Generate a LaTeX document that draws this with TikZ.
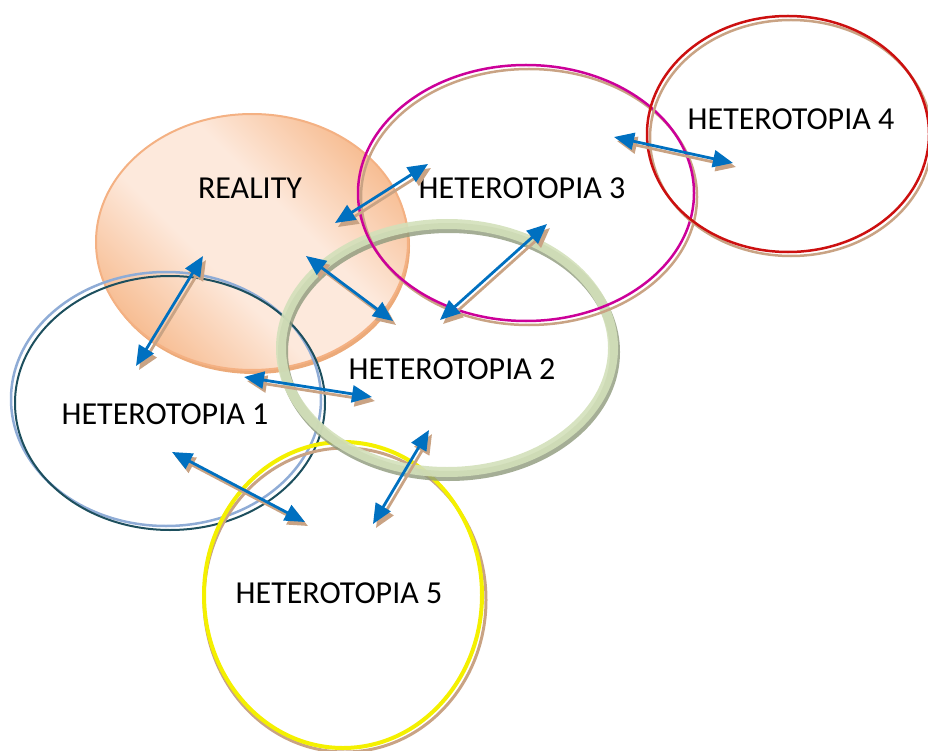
\documentclass[tikz,border=0pt]{standalone}
\usepackage{fontspec}
\setmainfont{Carlito}
\usetikzlibrary{arrows.meta,calc,positioning}
\definecolor{linkblue}{HTML}{0070C0}
\definecolor{tanshade}{HTML}{C9A384}
\definecolor{realdark}{HTML}{F7BE94}
\definecolor{reallight}{HTML}{FDE9DC}
\definecolor{realedge}{HTML}{F4B183}
\definecolor{tealline}{HTML}{1D4F5E}
\definecolor{paleblue}{HTML}{8FACD6}
\definecolor{ringgreen}{HTML}{D3E0BA}
\definecolor{ringshade}{HTML}{8E9A7C}
\definecolor{hetmagenta}{HTML}{CC0099}
\definecolor{hetred}{HTML}{CC1010}
\definecolor{hetyellow}{HTML}{F4F000}
\pgfdeclareverticalshading{realityshade}{100bp}{color(0bp)=(realdark);
  color(25bp)=(realdark); color(42bp)=(reallight); color(58bp)=(reallight);
  color(75bp)=(realdark); color(100bp)=(realdark)}
\tikzset{
  placename/.style={font=\fontsize{32}{38}\selectfont, inner sep=0pt},
  arrowshadow/.style={tanshade, line width=2.8pt,
    {Triangle[length=20pt,width=17pt]}-{Triangle[length=20pt,width=17pt]}},
  linkline/.style={linkblue, line width=2.8pt,
    {Triangle[length=20pt,width=17pt]}-{Triangle[length=20pt,width=17pt]}}
}
\newcommand{\linkarrow}[2]{%
  \draw[arrowshadow] ([shift={(3,4)}]#1) -- ([shift={(3,4)}]#2);
  \draw[linkline] (#1) -- (#2);}

\begin{document}
\begin{tikzpicture}[x=1pt,y=-1pt]
\useasboundingbox (0,0) rectangle (928,751);

% Reality (shaded disc)
\fill[realedge!85!brown] (254,246) ellipse (156 and 128);
\shade[shading=realityshade, shading angle=-45, draw=realedge,
  line width=2pt] (252,242) ellipse (156 and 128);

% Heterotopia 1
\draw[paleblue, line width=2.5pt] (166,399) ellipse (155 and 127);
\draw[tealline, line width=2pt] (170,403) ellipse (155 and 127);

% Heterotopia 5
\draw[tanshade, line width=3pt] (345,600) ellipse (141 and 152);
\draw[hetyellow, line width=4pt] (343,595) ellipse (139 and 153);

% Heterotopia 2 (thick ring)
\draw[ringshade, line width=10pt, opacity=0.8] (449,352) ellipse (166 and 124);
\draw[ringgreen, line width=10pt, opacity=0.9] (447,348) ellipse (166 and 124);

% Heterotopia 3
\draw[tanshade, line width=2.5pt] (529,197) ellipse (168 and 128);
\draw[hetmagenta, line width=2.5pt] (526,193) ellipse (168 and 128);

% Heterotopia 4
\draw[tanshade, line width=2.5pt] (791,138) ellipse (141 and 118);
\draw[hetred, line width=2.5pt] (788,134) ellipse (141 and 118);

% Labels
\node[placename] (reality) at (250,188) {REALITY};
\node[placename] (het1) at (165,414) {HETEROTOPIA 1};
\node[placename] (het2) at (452,369) {HETEROTOPIA 2};
\node[placename] (het3) at (522,188) {HETEROTOPIA 3};
\node[placename] (het4) at (791,119) {HETEROTOPIA 4};
\node[placename] (het5) at (339,593) {HETEROTOPIA 5};

% Arrow ends
\coordinate (r-h3) at (335,223);  \coordinate (h3-r) at (428,164);
\coordinate (r-h2) at (306,256);  \coordinate (h2-r) at (393,321);
\coordinate (h2-h3) at (440,320); \coordinate (h3-h2) at (547,224);
\coordinate (h3-h4) at (614,137); \coordinate (h4-h3) at (733,163);
\coordinate (r-h1) at (203,256);  \coordinate (h1-r) at (136,366);
\coordinate (h1-h2) at (244,377); \coordinate (h2-h1) at (372,397);
\coordinate (h1-h5) at (172,452); \coordinate (h5-h1) at (305,522);
\coordinate (h2-h5) at (429,430); \coordinate (h5-h2) at (373,524);

% Links
\linkarrow{r-h3}{h3-r}
\linkarrow{r-h2}{h2-r}
\linkarrow{h2-h3}{h3-h2}
\linkarrow{h3-h4}{h4-h3}
\linkarrow{r-h1}{h1-r}
\linkarrow{h1-h2}{h2-h1}
\linkarrow{h1-h5}{h5-h1}
\linkarrow{h2-h5}{h5-h2}
\end{tikzpicture}
\end{document}
